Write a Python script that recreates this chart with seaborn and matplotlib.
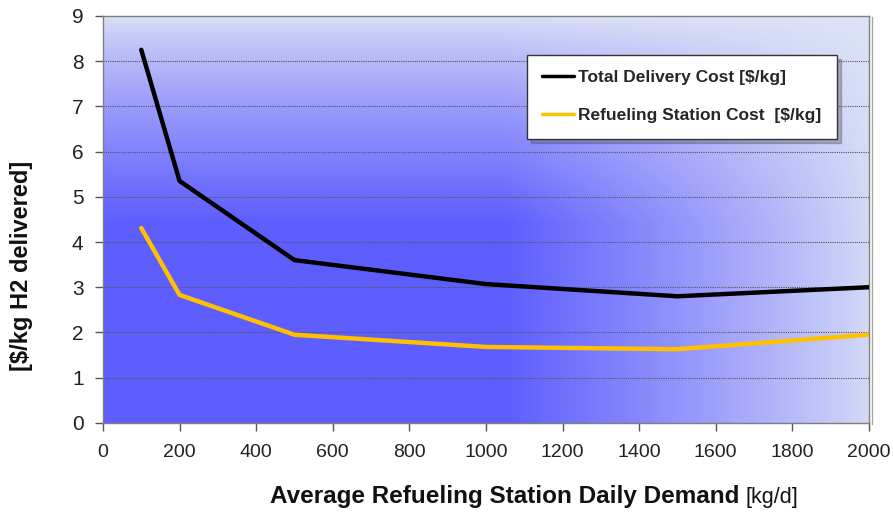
import numpy as np
import pandas as pd
import seaborn as sns
import matplotlib.pyplot as plt
from matplotlib import patheffects

# Station daily demand [kg/d]
demand = [100, 200, 500, 1000, 1500, 2000]
# Cost components [$/kg H2 delivered]
total_delivery_cost = [8.25, 5.35, 3.60, 3.07, 2.80, 3.00]
refueling_station_cost = [4.31, 2.83, 1.95, 1.68, 1.63, 1.95]

series_names = ["Total Delivery Cost [$/kg]", "Refueling Station Cost  [$/kg]"]
series_colors = ["#000000", "#FFC000"]

x_ticks = list(range(0, 2001, 200))
y_ticks = list(range(0, 10))

df = pd.DataFrame({
    "demand": demand * 2,
    "cost": total_delivery_cost + refueling_station_cost,
    "series": [series_names[0]] * len(demand) + [series_names[1]] * len(demand),
})

sns.set_theme(style="white")
regular = ["Liberation Sans", "DejaVu Sans"]
plt.rcParams["font.family"] = regular

fig = plt.figure(figsize=(8.93, 5.12), dpi=100)
fig.patch.set_facecolor("white")
ax = fig.add_axes([0.1153, 0.174, 0.8577, 0.795])

# Plot-area fill: light lavender at the top deepening to blue, fading out to the right
nx, ny = 400, 300
gx = np.linspace(0, 2000, nx)
gy = np.linspace(0, 9, ny)
X, Y = np.meshgrid(gx, gy)
ty = np.clip((9 - Y) / 4.6, 0, 1) ** 0.75
tx = np.clip((2000 - X) / 950, 0, 1) ** 0.9
t = (ty * (0.08 + 0.92 * tx))[..., None]
light = np.array([222, 228, 246]) / 255.0
deep = np.array([94, 94, 255]) / 255.0
img = light * (1 - t) + deep * t
ax.imshow(img, extent=[0, 2000, 0, 9], origin="lower", aspect="auto", zorder=0,
          interpolation="bilinear")

sns.lineplot(data=df, x="demand", y="cost", hue="series", palette=series_colors,
             linewidth=3.2, ax=ax, zorder=3, legend=True)

ax.set_xlim(0, 2000)
ax.set_ylim(0, 9)
ax.set_xticks(x_ticks)
ax.set_yticks(y_ticks)
ax.set_xticklabels([str(v) for v in x_ticks], fontsize=14, color="#222222")
ax.set_yticklabels([str(v) for v in y_ticks], fontsize=15, color="#222222")
ax.tick_params(axis="both", direction="out", length=6, width=1, color="#555555",
               bottom=True, left=True)
ax.tick_params(axis="x", pad=9)
ax.tick_params(axis="y", pad=8)

for yv in y_ticks[1:-1]:
    ax.axhline(yv, color="#555555", linestyle=(0, (1, 1)), linewidth=0.8, zorder=1)

for side, sp in ax.spines.items():
    sp.set_visible(True)
    sp.set_color("#7f7f7f")
    sp.set_linewidth(1.0)
ax.spines["right"].set_path_effects([patheffects.SimpleLineShadow(offset=(2, -1), alpha=0.4),
                                     patheffects.Normal()])

ax.set_xlabel("")
ax.set_ylabel("[$/kg H2 delivered]", fontsize=17, fontweight="bold", color="#111111")
ax.yaxis.set_label_coords((33 - 103) / 766, (423 - 266) / 407)

# Legend
handles, labels = ax.get_legend_handles_labels()
leg = ax.legend(handles, labels, loc="upper left", bbox_to_anchor=(0.553, 0.905),
                frameon=True, fancybox=False, shadow={"ox": 3, "oy": -3, "alpha": 0.35},
                handlelength=1.85, handletextpad=0.2, labelspacing=1.3,
                borderpad=0.9, borderaxespad=0,
                prop={"weight": "bold", "size": 12.5})
leg.get_frame().set_edgecolor("#333333")
leg.get_frame().set_linewidth(1.0)
for line in leg.get_lines():
    line.set_linewidth(2.5)
leg.set_zorder(5)

# X-axis title: bold description followed by the unit in regular weight
fig.canvas.draw()
renderer = fig.canvas.get_renderer()
cx, ty_ = 534 / 893, 1 - 497 / 512
t1 = fig.text(0, ty_, "Average Refueling Station Daily Demand ", fontsize=17.5,
              fontweight="bold", va="center", ha="left", color="#111111")
t2 = fig.text(0, ty_, "[kg/d]", fontsize=15.5, va="center", ha="left", color="#111111")
w1 = t1.get_window_extent(renderer).width / fig.bbox.width
w2 = t2.get_window_extent(renderer).width / fig.bbox.width
start = cx - (w1 + w2) / 2
t1.set_x(start)
t2.set_x(start + w1)

fig.savefig("out.png", dpi=100, facecolor="white")
